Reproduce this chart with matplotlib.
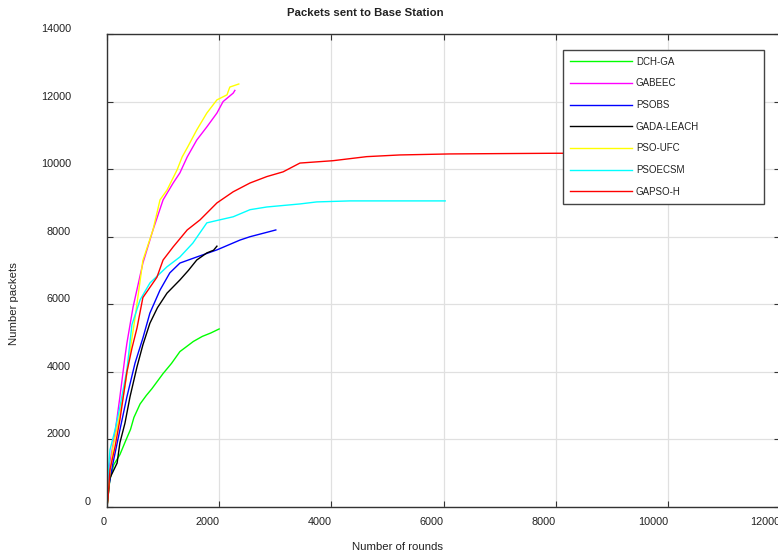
"""
Packets sent to base station vs. number of rounds
"""

import matplotlib
matplotlib.use('Agg')
import matplotlib.pyplot as plt
from matplotlib.transforms import ScaledTranslation

plt.rcParams['font.family'] = ['Liberation Sans', 'DejaVu Sans']

#------------------------------------------------------------------------------
# data

labels = ['DCH-GA', 'GABEEC', 'PSOBS', 'GADA-LEACH', 'PSO-UFC', 'PSOECSM', 'GAPSO-H']
colors = ['#00ff00', '#ff00ff', '#0000ff', '#000000', '#ffff00', '#00ffff', '#ff0000']

dch_x = [0, 50, 120, 230, 330, 420, 480, 590, 700, 800, 1000, 1150, 1300, 1420, 1540, 1700, 1850, 2000]
dch_y = [0, 800, 1250, 1550, 1950, 2300, 2650, 3050, 3300, 3500, 3950, 4250, 4600, 4750, 4900, 5050, 5150, 5270]

gab_x = [0, 40, 143, 230, 320, 355, 465, 640, 820, 1000, 1180, 1300, 1430, 1600, 1780, 1960, 2070, 2250, 2280]
gab_y = [0, 1200, 2190, 3260, 4440, 4850, 5920, 7220, 8200, 9090, 9590, 9890, 10360, 10860, 11250, 11660, 12000, 12250, 12330]

psobs_x = [0, 20, 107, 230, 355, 500, 640, 765, 945, 1120, 1300, 1600, 1960, 2370, 2550, 2850, 3010]
psobs_y = [0, 500, 1300, 2280, 3260, 4260, 5000, 5740, 6420, 6930, 7220, 7400, 7610, 7900, 8000, 8130, 8200]

gada_x = [0, 50, 180, 230, 320, 410, 535, 640, 765, 900, 1070, 1300, 1450, 1600, 1780, 1900, 1960]
gada_y = [0, 850, 1300, 1900, 2480, 3260, 4150, 4800, 5440, 5900, 6330, 6720, 7000, 7310, 7520, 7600, 7720]

ufc_x = [0, 50, 107, 196, 320, 445, 500, 640, 820, 945, 1070, 1160, 1250, 1340, 1440, 1600, 1780, 1960, 2140, 2190, 2350]
ufc_y = [0, 1000, 1780, 2480, 3560, 5000, 5600, 7300, 8200, 9090, 9380, 9680, 9980, 10360, 10660, 11160, 11660, 12050, 12200, 12430, 12520]

ecsm_x = [0, 20, 53, 143, 230, 355, 445, 590, 765, 1070, 1300, 1530, 1780, 1960, 2250, 2550, 2850, 3440, 3740, 4330, 6030]
ecsm_y = [0, 1000, 1690, 2280, 2960, 4060, 5400, 6130, 6630, 7110, 7400, 7810, 8410, 8480, 8590, 8800, 8880, 8970, 9030, 9060, 9060]

gapso_x = [0, 20, 53, 143, 230, 355, 445, 535, 640, 890, 1000, 1180, 1430, 1660, 1960, 2250, 2550, 2850, 3140,
           3440, 4030, 4630, 5220, 6110, 7000, 8000, 9000]
gapso_y = [0, 300, 1100, 1780, 2580, 4000, 4700, 5300, 6200, 6800, 7310, 7700, 8200, 8500, 9000, 9330, 9590, 9780, 9920,
           10180, 10250, 10370, 10420, 10450, 10460, 10470, 10470]

series_x = [dch_x, gab_x, psobs_x, gada_x, ufc_x, ecsm_x, gapso_x]
series_y = [dch_y, gab_y, psobs_y, gada_y, ufc_y, ecsm_y, gapso_y]

xticks = [0, 2000, 4000, 6000, 8000, 10000, 12000]
yticks = [0, 2000, 4000, 6000, 8000, 10000, 12000, 14000]

#------------------------------------------------------------------------------
# figure

fig = plt.figure(figsize=(7.78, 5.58), dpi=100)
ax = fig.add_axes([107/778, 1-507/558, 673/778, 473/558])

txt = '#222222'

for x, y, c, lab in zip(series_x, series_y, colors, labels):
    ax.plot(x, y, color=c, lw=1.0, label=lab)

ax.set_xlim(0, 12000)
ax.set_ylim(0, 14000)
ax.set_xticks(xticks)
ax.set_yticks(yticks)
ax.grid(True, color='#e0e0e0', lw=0.9)
ax.set_axisbelow(True)

ax.tick_params(direction='in', length=4.5, width=0.8, top=True, right=True,
               labelsize=7.8, labelcolor=txt, colors='#333333')
ax.tick_params(axis='x', pad=7)
ax.tick_params(axis='y', pad=26)
for t in ax.get_xticklabels():
    t.set_ha('right')
for t in ax.get_yticklabels():
    t.set_va('bottom')
for s in ax.spines.values():
    s.set_color('#333333')
    s.set_linewidth(1.0)

# the "0" label sits further right in the reference
lab0 = ax.yaxis.get_major_ticks()[0].label1
lab0.set_transform(lab0.get_transform() + ScaledTranslation(20/100, 0, fig.dpi_scale_trans))

ax.legend(loc='upper left', bbox_to_anchor=(456/673, 300/473, 201/673, 157/473),
          mode='expand', borderaxespad=0, fontsize=7, handlelength=6.4,
          handletextpad=0.4, labelspacing=1.2, borderpad=0.7, fancybox=False,
          framealpha=1, edgecolor='#444444', labelcolor=txt)
ax.get_legend().get_frame().set_linewidth(1.0)

fig.text(365/778, 1-13/558, 'Packets sent to Base Station', ha='center', va='center',
         fontsize=8.2, fontweight='bold', color=txt)
fig.text(397/778, 1-547/558, 'Number of rounds', ha='center', va='center',
         fontsize=8.2, color=txt)
fig.text(14/778, 1-304/558, 'Number packets', ha='center', va='center',
         rotation=90, fontsize=8.2, color=txt)

fig.savefig('out.png', dpi=100)
